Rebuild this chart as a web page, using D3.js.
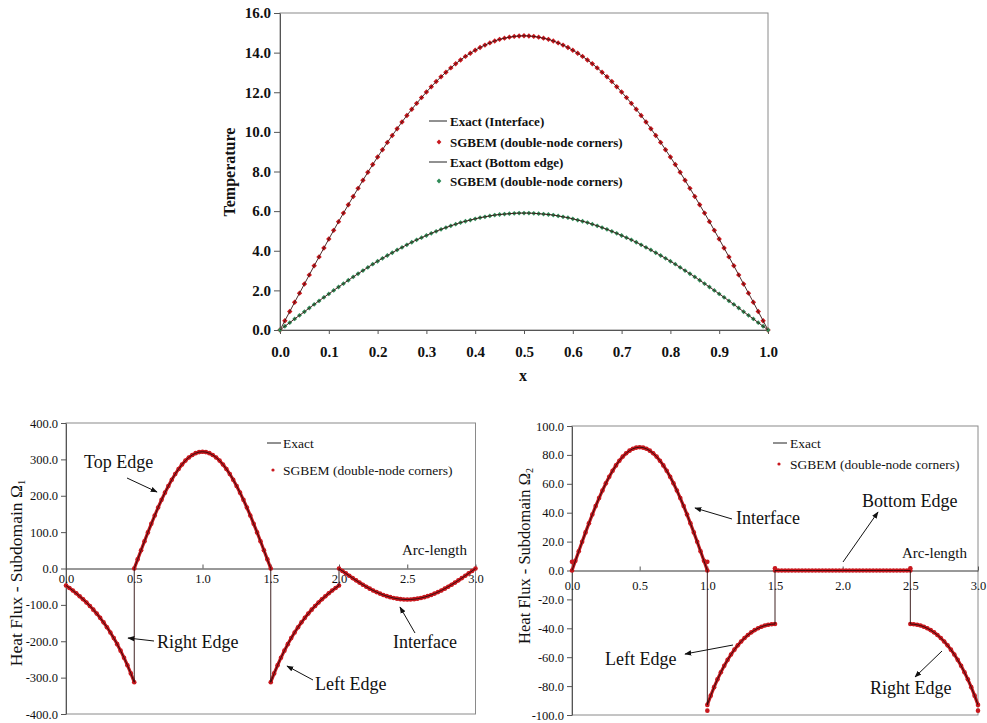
<!DOCTYPE html>
<html>
<head>
<meta charset="utf-8">
<script src="https://cdn.jsdelivr.net/npm/d3@7"></script>
<style>
  body { margin: 0; background: #fff; }
  svg { display: block; }
</style>
</head>
<body>
<svg id="fig" width="987" height="723"></svg>
<script>
// ---------- Temperature profiles (top panel) ----------
const tempX = [0,0.01,0.02,0.03,0.04,0.05,0.06,0.07,0.08,0.09,0.1,0.11,0.12,0.13,0.14,0.15,0.16,0.17,0.18,0.19,0.2,
  0.21,0.22,0.23,0.24,0.25,0.26,0.27,0.28,0.29,0.3,0.31,0.32,0.33,0.34,0.35,0.36,0.37,0.38,0.39,0.4,
  0.41,0.42,0.43,0.44,0.45,0.46,0.47,0.48,0.49,0.5,0.51,0.52,0.53,0.54,0.55,0.56,0.57,0.58,0.59,0.6,
  0.61,0.62,0.63,0.64,0.65,0.66,0.67,0.68,0.69,0.7,0.71,0.72,0.73,0.74,0.75,0.76,0.77,0.78,0.79,0.8,
  0.81,0.82,0.83,0.84,0.85,0.86,0.87,0.88,0.89,0.9,0.91,0.92,0.93,0.94,0.95,0.96,0.97,0.98,0.99,1.0];
const tempInterface = [0,0.47,0.93,1.40,1.86,2.32,2.78,3.24,3.69,4.14,4.59,5.03,5.47,5.90,6.32,6.74,7.15,7.56,7.96,8.35,8.73,
  9.10,9.47,9.82,10.16,10.50,10.83,11.14,11.44,11.73,12.01,12.28,12.54,12.78,13.01,13.23,13.44,13.63,13.81,13.97,14.12,
  14.26,14.38,14.49,14.59,14.67,14.73,14.78,14.82,14.84,14.85,14.84,14.82,14.78,14.73,14.67,14.59,14.49,14.38,14.26,14.12,
  13.97,13.81,13.63,13.44,13.23,13.01,12.78,12.54,12.28,12.01,11.73,11.44,11.14,10.83,10.50,10.16,9.82,9.47,9.10,8.73,
  8.35,7.96,7.56,7.15,6.74,6.32,5.90,5.47,5.03,4.59,4.14,3.69,3.24,2.78,2.32,1.86,1.40,0.93,0.47,0];
const tempBottom = [0,0.19,0.37,0.56,0.74,0.92,1.11,1.29,1.47,1.65,1.82,2.00,2.17,2.34,2.51,2.68,2.84,3.00,3.16,3.32,3.47,
  3.62,3.76,3.90,4.04,4.17,4.30,4.43,4.55,4.66,4.77,4.88,4.98,5.08,5.17,5.26,5.34,5.42,5.49,5.55,5.61,
  5.67,5.71,5.76,5.80,5.83,5.85,5.87,5.89,5.90,5.90,5.90,5.89,5.87,5.85,5.83,5.80,5.76,5.71,5.67,5.61,
  5.55,5.49,5.42,5.34,5.26,5.17,5.08,4.98,4.88,4.77,4.66,4.55,4.43,4.30,4.17,4.04,3.90,3.76,3.62,3.47,
  3.32,3.16,3.00,2.84,2.68,2.51,2.34,2.17,2.00,1.82,1.65,1.47,1.29,1.11,0.92,0.74,0.56,0.37,0.19,0];
const tempTicksY = [0,2,4,6,8,10,12,14,16];
const tempTicksX = [0,0.1,0.2,0.3,0.4,0.5,0.6,0.7,0.8,0.9,1.0];
const tempLegend = ["Exact (Interface)", "SGBEM (double-node corners)", "Exact (Bottom edge)", "SGBEM (double-node corners)"];

// ---------- Boundary heat flux (bottom panels) ----------
// arc-length offsets along an edge of length 0.5 and 1.0
const halfOffsets = [0,0.025,0.05,0.075,0.1,0.125,0.15,0.175,0.2,0.225,0.25,0.275,0.3,0.325,0.35,0.375,0.4,0.425,0.45,0.475,0.5];
const fullOffsets = [0,0.025,0.05,0.075,0.1,0.125,0.15,0.175,0.2,0.225,0.25,0.275,0.3,0.325,0.35,0.375,0.4,0.425,0.45,0.475,0.5,
  0.525,0.55,0.575,0.6,0.625,0.65,0.675,0.7,0.725,0.75,0.775,0.8,0.825,0.85,0.875,0.9,0.925,0.95,0.975,1.0];

// Subdomain 1
const flux1Right = [-46.65,-53.48,-60.64,-68.17,-76.12,-84.55,-93.49,-103.01,-113.17,-124.02,-135.64,-148.10,-161.47,-175.84,-191.30,-207.93,-225.85,-245.16,-265.99,-288.45,-312.70];
const flux1Top = [0,25.19,50.21,74.94,99.20,122.84,145.73,167.72,188.68,208.47,226.98,244.09,259.70,273.70,286.01,296.57,305.29,312.13,317.05,320.01,321.00,
  320.01,317.05,312.13,305.29,296.57,286.01,273.70,259.70,244.09,226.98,208.47,188.68,167.72,145.73,122.84,99.20,74.94,50.21,25.19,0];
const flux1Left = [-312.70,-288.45,-265.99,-245.16,-225.85,-207.93,-191.30,-175.84,-161.47,-148.10,-135.64,-124.02,-113.17,-103.01,-93.49,-84.55,-76.12,-68.17,-60.64,-53.48,-46.65];
const flux1Interface = [0,-6.69,-13.34,-19.91,-26.36,-32.64,-38.73,-44.57,-50.14,-55.40,-60.32,-64.86,-69.01,-72.73,-76.00,-78.81,-81.13,-82.94,-84.25,-85.04,-85.30,
  -85.04,-84.25,-82.94,-81.13,-78.81,-76.00,-72.73,-69.01,-64.86,-60.32,-55.40,-50.14,-44.57,-38.73,-32.64,-26.36,-19.91,-13.34,-6.69,0];

// Subdomain 2
const flux2Interface = [0,6.69,13.34,19.91,26.36,32.64,38.73,44.57,50.14,55.40,60.32,64.86,69.01,72.73,76.00,78.81,81.13,82.94,84.25,85.04,85.30,
  85.04,84.25,82.94,81.13,78.81,76.00,72.73,69.01,64.86,60.32,55.40,50.14,44.57,38.73,32.64,26.36,19.91,13.34,6.69,0];
const flux2Left = [-93.02,-86.60,-80.71,-75.32,-70.40,-65.91,-61.83,-58.13,-54.79,-51.79,-49.10,-46.72,-44.63,-42.81,-41.26,-39.97,-38.91,-38.10,-37.53,-37.18,-37.07];
const flux2Bottom = [0,0,0,0,0,0,0,0,0,0,0,0,0,0,0,0,0,0,0,0,0,0,0,0,0,0,0,0,0,0,0,0,0,0,0,0,0,0,0,0,0];
const flux2Right = [-37.07,-37.18,-37.53,-38.10,-38.91,-39.97,-41.26,-42.81,-44.63,-46.72,-49.10,-51.79,-54.79,-58.13,-61.83,-65.91,-70.40,-75.32,-80.71,-86.60,-93.02];
// double-node corner samples of subdomain 2
const corner2S = [0, 1.0, 1.0, 1.5, 2.5, 3.0];
const corner2Q = [6, 6, -97, 1.5, 1.5, -97];

const arcTicks = [0,0.5,1.0,1.5,2.0,2.5,3.0];
const flux1TicksY = [-400,-300,-200,-100,0,100,200,300,400];
const flux2TicksY = [-100,-80,-60,-40,-20,0,20,40,60,80,100];

// ---------- drawing ----------
const SERIF = "'Liberation Serif','Times New Roman',Times,serif";
const fmt1 = d => d.toFixed(1);          // plain hyphen for negatives
const RED = "#c8181e";
const GREEN = "#2f8a57";
const svg = d3.select("#fig");

const defs = svg.append("defs");
defs.append("marker").attr("id", "arrowHead")
  .attr("viewBox", "0 0 10 10").attr("refX", 9).attr("refY", 5)
  .attr("markerWidth", 7).attr("markerHeight", 7).attr("orient", "auto")
  .append("path").attr("d", "M0,1.2 L10,5 L0,8.8 Z").attr("fill", "#111");

function styleAxis(g, size, weight) {
  g.selectAll("text").attr("font-family", SERIF).attr("font-size", size)
    .attr("font-weight", weight).attr("fill", "#111");
  g.selectAll("line").attr("stroke", "#555");
  g.selectAll("path.domain").attr("stroke", "#555");
}

function diamond(g, cx, cy, r, color) {
  g.append("path").attr("d", `M${cx},${cy - r}L${cx + r},${cy}L${cx},${cy + r}L${cx - r},${cy}Z`).attr("fill", color);
}

// ===== Top panel: temperature =====
(function () {
  const g = svg.append("g");
  const x = d3.scaleLinear().domain([0, 1]).range([280, 768]);
  const y = d3.scaleLinear().domain([0, 16]).range([330, 13]);

  g.append("rect").attr("x", x(0)).attr("y", y(16)).attr("width", x(1) - x(0)).attr("height", y(0) - y(16))
    .attr("fill", "none").attr("stroke", "#8a8a8a");

  const ya = g.append("g").attr("transform", `translate(${x(0)},0)`)
    .call(d3.axisLeft(y).tickValues(tempTicksY).tickFormat(fmt1).tickSize(6).tickPadding(3).tickSizeOuter(0));
  styleAxis(ya, 15, "bold");

  const xa = g.append("g").attr("transform", `translate(0,${y(0)})`)
    .call(d3.axisBottom(x).tickValues(tempTicksX).tickFormat(fmt1).tickSize(4).tickSizeOuter(0));
  styleAxis(xa, 15, "bold");
  xa.selectAll("text").attr("y", 27).attr("dy", null);

  g.append("text").attr("transform", "translate(235,172) rotate(-90)").attr("text-anchor", "middle")
    .attr("font-family", SERIF).attr("font-size", 16).attr("font-weight", "bold").attr("fill", "#111")
    .text("Temperature");
  g.append("text").attr("x", 523).attr("y", 381).attr("text-anchor", "middle")
    .attr("font-family", SERIF).attr("font-size", 16).attr("font-weight", "bold").attr("fill", "#111").text("x");

  const series = [
    { vals: tempInterface, color: RED, r: 2.7 },
    { vals: tempBottom, color: GREEN, r: 2.4 }
  ];
  const line = d3.line().x(d => x(d[0])).y(d => y(d[1]));
  series.forEach(s => {
    const pts = tempX.map((xv, i) => [xv, s.vals[i]]);
    const mg = g.append("g");
    pts.forEach(p => diamond(mg, x(p[0]), y(p[1]), s.r, s.color));
    g.append("path").attr("d", line(pts)).attr("fill", "none").attr("stroke", "#3a1010").attr("stroke-width", 0.9);
  });

  // legend
  const lg = g.append("g").attr("font-family", SERIF).attr("font-size", 13).attr("font-weight", "bold").attr("fill", "#111");
  const rows = [121, 142, 162, 181];
  rows.forEach((ry, i) => {
    if (i % 2 === 0) {
      lg.append("line").attr("x1", 429).attr("x2", 447).attr("y1", ry).attr("y2", ry).attr("stroke", "#222").attr("stroke-width", 1);
    } else {
      diamond(lg, 439, ry, 2.4, i === 1 ? RED : GREEN);
    }
    lg.append("text").attr("x", 450).attr("y", ry).attr("dy", "0.35em").text(tempLegend[i]);
  });
})();

// ===== Bottom panels: heat flux =====
function fluxPanel(cfg) {
  const g = svg.append("g");
  const x = d3.scaleLinear().domain([0, 3]).range([cfg.left, cfg.right]);
  const y = d3.scaleLinear().domain(cfg.yDomain).range([cfg.bottom, cfg.top]);
  const y0 = y(0);

  g.append("rect").attr("x", cfg.left).attr("y", cfg.top).attr("width", cfg.right - cfg.left).attr("height", cfg.bottom - cfg.top)
    .attr("fill", "none").attr("stroke", "#8a8a8a");

  const ya = g.append("g").attr("transform", `translate(${cfg.left},0)`)
    .call(d3.axisLeft(y).tickValues(cfg.yTicks).tickFormat(fmt1).tickSize(5).tickPadding(3).tickSizeOuter(0));
  styleAxis(ya, 12.5, "normal");

  const xa = g.append("g").attr("transform", `translate(0,${y0})`)
    .call(d3.axisBottom(x).tickValues(arcTicks).tickFormat(fmt1).tickSize(-4).tickSizeOuter(0));
  styleAxis(xa, 12.5, "normal");
  xa.selectAll("path.domain").attr("stroke", "#333");
  xa.selectAll("text").attr("y", cfg.xLabelBase).attr("dy", null);

  // y title
  const yt = g.append("text").attr("transform", `translate(${cfg.titleX},${cfg.titleY}) rotate(-90)`)
    .attr("text-anchor", "middle").attr("font-family", SERIF).attr("font-size", cfg.titleSize).attr("fill", "#111");
  yt.append("tspan").text("Heat Flux - Subdomain Ω");
  yt.append("tspan").attr("font-size", cfg.titleSize * 0.6).attr("dy", "0.3em").text(cfg.sub);

  // segments -> points
  const pts = [];
  cfg.segments.forEach(seg => seg.offsets.forEach((o, i) => pts.push([seg.start + o, seg.q[i]])));

  const line = d3.line().x(d => x(d[0])).y(d => y(d[1]));
  // soft red band behind the nodes
  cfg.segments.forEach(seg => {
    const sp = seg.offsets.map((o, i) => [seg.start + o, seg.q[i]]);
    g.append("path").attr("d", line(sp)).attr("fill", "none").attr("stroke", RED)
      .attr("stroke-width", 3.2).attr("stroke-linecap", "round").attr("stroke-linejoin", "round");
  });
  const mg = g.append("g").attr("fill", RED);
  pts.concat(cfg.extra || []).forEach(p => {
    mg.append("circle").attr("cx", x(p[0])).attr("cy", y(p[1])).attr("r", 2.3);
  });
  g.append("path").attr("d", line(pts)).attr("fill", "none").attr("stroke", "#2a0a0a").attr("stroke-width", 0.9);

  // legend
  const lg = g.append("g").attr("font-family", SERIF).attr("font-size", 13.5).attr("fill", "#111");
  const L = cfg.legend;
  lg.append("line").attr("x1", L.x).attr("x2", L.x + 14).attr("y1", L.y1).attr("y2", L.y1).attr("stroke", "#222");
  lg.append("text").attr("x", L.tx).attr("y", L.y1).attr("dy", "0.35em").text("Exact");
  lg.append("circle").attr("cx", L.x + 6).attr("cy", L.y2).attr("r", 1.6).attr("fill", RED);
  lg.append("text").attr("x", L.tx).attr("y", L.y2).attr("dy", "0.35em").text("SGBEM (double-node corners)");

  // annotations
  const ag = g.append("g").attr("font-family", SERIF).attr("fill", "#111");
  cfg.notes.forEach(n => {
    ag.append("text").attr("x", n.tx).attr("y", n.ty).attr("dy", "0.35em").attr("font-size", n.size || 18)
      .attr("text-anchor", n.anchor || "start").text(n.text);
    if (n.arrow) {
      ag.append("line").attr("x1", n.arrow[0]).attr("y1", n.arrow[1]).attr("x2", n.arrow[2]).attr("y2", n.arrow[3])
        .attr("stroke", "#111").attr("stroke-width", 1).attr("marker-end", "url(#arrowHead)");
    }
  });
}

fluxPanel({
  left: 66, right: 475.5, top: 423, bottom: 714, yDomain: [-400, 400], yTicks: flux1TicksY,
  xLabelBase: 14.5, titleX: 22, titleY: 573, titleSize: 17.5, sub: "1",
  segments: [
    { start: 0, offsets: halfOffsets, q: flux1Right },
    { start: 0.5, offsets: fullOffsets, q: flux1Top },
    { start: 1.5, offsets: halfOffsets, q: flux1Left },
    { start: 2.0, offsets: fullOffsets, q: flux1Interface }
  ],
  legend: { x: 267, tx: 283, y1: 443, y2: 470 },
  notes: [
    { text: "Top Edge", tx: 84, ty: 462, arrow: [127, 478, 157, 492] },
    { text: "Right Edge", tx: 157, ty: 642, arrow: [154, 641, 128, 638] },
    { text: "Left Edge", tx: 315, ty: 684, arrow: [313, 680, 287, 666] },
    { text: "Interface", tx: 393, ty: 642, arrow: [415, 633, 400, 607] },
    { text: "Arc-length", tx: 467, ty: 550, size: 15, anchor: "end" }
  ]
});

fluxPanel({
  left: 572, right: 978, top: 426, bottom: 715, yDomain: [-100, 100], yTicks: flux2TicksY,
  xLabelBase: 19.5, titleX: 530, titleY: 556, titleSize: 16.5, sub: "2",
  segments: [
    { start: 0, offsets: fullOffsets, q: flux2Interface },
    { start: 1.0, offsets: halfOffsets, q: flux2Left },
    { start: 1.5, offsets: fullOffsets, q: flux2Bottom },
    { start: 2.5, offsets: halfOffsets, q: flux2Right }
  ],
  extra: corner2S.map((s, i) => [s, corner2Q[i]]),
  legend: { x: 773, tx: 790, y1: 443, y2: 464 },
  notes: [
    { text: "Interface", tx: 736, ty: 518, arrow: [732, 519, 695, 508] },
    { text: "Bottom Edge", tx: 862, ty: 501, arrow: [843, 562, 878, 512] },
    { text: "Left Edge", tx: 605, ty: 659, arrow: [733, 645, 685, 654] },
    { text: "Right Edge", tx: 870, ty: 688, arrow: [942, 651, 915, 677] },
    { text: "Arc-length", tx: 967, ty: 553, size: 15, anchor: "end" }
  ]
});
</script>
</body>
</html>
